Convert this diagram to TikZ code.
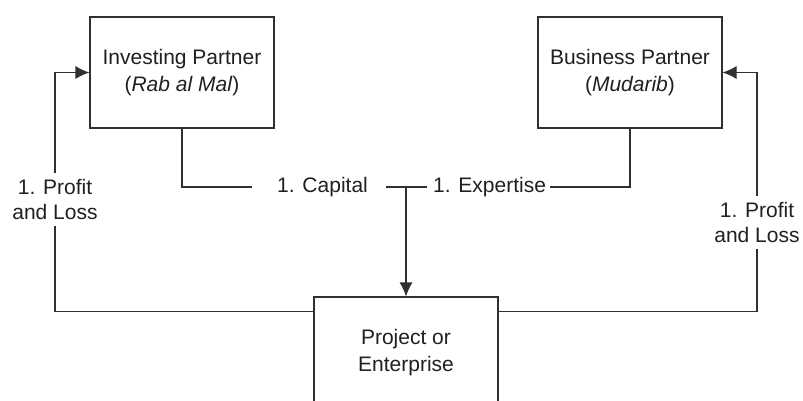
\documentclass[tikz,border=0pt]{standalone}
\usepackage{fontspec}
\setmainfont{Liberation Sans}
\usetikzlibrary{arrows.meta}
\definecolor{inkc}{HTML}{231F20}
\definecolor{linec}{HTML}{303030}
\begin{document}
\begin{tikzpicture}[x=1pt,y=-1pt,
  box/.style={draw=linec, line width=1.1pt, fill=white, minimum width=184pt, minimum height=111pt,
    align=center, inner sep=0pt, text=inkc, font=\fontsize{21}{27}\selectfont},
  lbl/.style={align=center, inner xsep=2pt, inner ysep=6pt, text=inkc, font=\fontsize{21}{25.5}\selectfont},
  conn/.style={draw=linec, line width=1.1pt},
  arr/.style={conn, -{Latex[length=14pt,width=13pt]}}]
\useasboundingbox (0,0) rectangle (803,400);
\begin{scope}
\clip (0,0) rectangle (803,400);
\node[box] (inv) at (182,72.5) {Investing Partner\\(\textit{Rab al Mal})};
\node[box] (bus) at (630,72.5) {Business Partner\\(\textit{Mudarib})};
\node[box] (proj) at (406,352.5) {Project or\\Enterprise};
\node[lbl] (pl) at (55,199.5) {1. Profit\\and Loss};
\node[lbl] (pr) at (757,222.5) {1. Profit\\and Loss};
\node[lbl, anchor=west] (cap) at (275,187) {1. Capital};
\node[lbl, anchor=west] (exp) at (431,187) {1. Expertise};
\coordinate (pjL) at ([yshift=-15pt]proj.north west);
\coordinate (pjR) at ([yshift=-15pt]proj.north east);
% capital and expertise
\draw[conn, shorten >=23pt] (inv.south) |- (cap.west);
\draw[conn, shorten <=16pt, shorten >=4pt] (cap.east) -- (exp.west);
\draw[conn, shorten >=2pt] (bus.south) |- (exp.east);
\draw[arr] (proj.north |- cap.east) -- (proj.north);
% profit and loss
\draw[arr] (pl.north) |- (inv.west);
\draw[conn] (pl.south) |- (pjL);
\draw[arr] (pr.north) |- (bus.east);
\draw[conn] (pr.south) |- (pjR);
\end{scope}
\end{tikzpicture}
\end{document}
